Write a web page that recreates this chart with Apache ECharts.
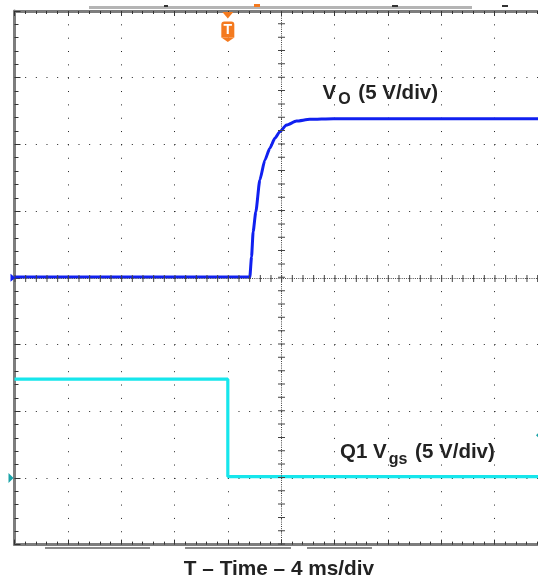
<!DOCTYPE html>
<html><head><meta charset="utf-8">
<script src="https://cdn.jsdelivr.net/npm/echarts@6/dist/echarts.min.js"></script>
<style>html,body{margin:0;padding:0;background:#fff}#c{width:538px;height:580px}</style>
</head><body><div id="c"></div>
<script>
// ---- data (time in ms, 4 ms/div, trigger at 0 ms; volts, 5 V/div) ----
const timeTicks = [-16, -12, -8, -4, 0, 4, 8, 12, 16, 20, 24];
const voAxisTicks = [-20, -15, -10, -5, 0, 5, 10, 15, 20];
const vgsAxisTicks = [-5, 0, 5, 10, 15, 20, 25, 30, 35];
const voTime  = [-16, 1.65, 1.78, 1.90, 2.10, 2.40, 2.78, 3.15, 3.53, 3.90, 4.40, 5.15, 6.15, 7.9, 24];
const voVolts = [0.06, 0.06, 1.58, 3.46, 4.95, 7.33, 8.83, 9.71, 10.46, 10.95, 11.45, 11.75, 11.88, 11.93, 11.92];
const vgsTime  = [-16, 0, 0, 24];
const vgsVolts = [7.4, 7.4, 0.1, 0.1];
const triggerTime = 0;
const vgsTriggerLevel = 3.2;
const centerTime = 4;
const labels = {
  vo: ['V', 'O', ' (5 V/div)'],
  vgs: ['Q1 V', 'gs', ' (5 V/div)'],
  xTitle: 'T \u2013 Time \u2013 4 ms/div'
};

// ---- layout ----
const W = 538, H = 580;
const GL = 14.5, GT = 11, GW = 533.3, GH = 533.6;
const nX = timeTicks.length - 1, nY = voAxisTicks.length - 1;
const minorW = GW / nX / 5, minorH = GH / nY / 5;
const FONT = '"Liberation Sans", Arial, Helvetica, sans-serif';
const GRID_DOT = '#222';
const FRAME = '#7d7d7d';
const BLUE = '#1020f0';
const CYAN = '#16e6ec';
const ORANGE = '#f47a1f';
const MAIN_SIZE = 20.5, SUB_SIZE = 16;

const zip = (a, b) => a.map((v, i) => [v, b[i]]);

function xAxisCfg(pos, split) {
  return {
    type: 'value', position: pos,
    min: timeTicks[0], max: timeTicks[timeTicks.length - 1],
    interval: timeTicks[1] - timeTicks[0],
    axisLine: { show: true, onZero: false, lineStyle: { color: FRAME, width: 3 } },
    axisTick: { show: true, inside: true, length: 5, lineStyle: { color: '#333', width: 1 } },
    minorTick: { show: true, splitNumber: 5, length: 3, lineStyle: { color: '#333', width: 1 } },
    axisLabel: { show: false },
    splitLine: { show: split, showMinLine: false, showMaxLine: false,
      lineStyle: { color: GRID_DOT, width: 1, type: [1, minorH - 1] } },
    minorSplitLine: { show: false }
  };
}

const chart = echarts.init(document.getElementById('c'), null, { renderer: 'canvas', width: W, height: H });

const option = {
  animation: false,
  backgroundColor: '#fff',
  grid: { left: GL, top: GT, right: W - GL - GW, bottom: H - GT - GH, containLabel: false, outerBoundsMode: 'none' },
  xAxis: [xAxisCfg('bottom', true), xAxisCfg('top', false)],
  yAxis: [
    {
      type: 'value', position: 'left',
      min: voAxisTicks[0], max: voAxisTicks[voAxisTicks.length - 1],
      interval: voAxisTicks[1] - voAxisTicks[0],
      axisLine: { show: true, onZero: false, lineStyle: { color: FRAME, width: 3 } },
      axisTick: { show: true, inside: true, length: 6, lineStyle: { color: '#333', width: 1 } },
      minorTick: { show: true, splitNumber: 5, length: 4, lineStyle: { color: '#333', width: 1 } },
      axisLabel: { show: false },
      splitLine: { show: true, showMinLine: false, showMaxLine: false,
        lineStyle: { color: GRID_DOT, width: 1, type: [1, minorW - 1] } }
    },
    {
      type: 'value', position: 'right', show: false,
      min: vgsAxisTicks[0], max: vgsAxisTicks[vgsAxisTicks.length - 1],
      interval: vgsAxisTicks[1] - vgsAxisTicks[0],
      splitLine: { show: false }
    }
  ],
  series: [
    {
      name: 'center', type: 'line', data: [], z: 1, silent: true,
      markLine: {
        silent: true, symbol: 'none', label: { show: false }, animation: false,
        emphasis: { disabled: true },
        data: [
          { xAxis: centerTime, lineStyle: { color: '#444', width: 1, type: [1, 1.2] } },
          { xAxis: centerTime, lineStyle: { color: '#444', width: 7, type: [1, minorH - 1] } },
          { yAxis: 0, lineStyle: { color: '#444', width: 1, type: [1, 1.2] } },
          { yAxis: 0, lineStyle: { color: '#444', width: 7, type: [1, minorW - 1] } }
        ]
      }
    },
    {
      name: 'Q1 Vgs', type: 'line', xAxisIndex: 0, yAxisIndex: 1, z: 3,
      data: zip(vgsTime, vgsVolts), showSymbol: false, symbol: 'none',
      lineStyle: { color: CYAN, width: 3.2 }
    },
    {
      name: 'VO', type: 'line', xAxisIndex: 0, yAxisIndex: 0, z: 4,
      data: zip(voTime, voVolts), showSymbol: false, symbol: 'none',
      smooth: 0.2, smoothMonotone: 'x',
      lineStyle: { color: BLUE, width: 3 }
    }
  ]
};
chart.setOption(option);

// ---- annotations placed from axis coordinates ----
const px = (t, v, yi) => chart.convertToPixel({ xAxisIndex: 0, yAxisIndex: yi || 0 }, [t, v]);
const trig = px(triggerTime, 0);
const voGnd = px(timeTicks[0], 0, 0);
const vgsGnd = px(timeTicks[0], 0, 1);
const vgsTrig = px(timeTicks[0], vgsTriggerLevel, 1);
const tx = trig[0];

// text measuring for subscript labels
const mctx = document.createElement('canvas').getContext('2d');
function textW(str, size) { mctx.font = 'bold ' + size + 'px ' + FONT; return mctx.measureText(str).width; }
// baseline-positioned label with subscript: parts = [main, sub, main]
function subLabel(parts, x, baseline, subDrop) {
  const els = [];
  const gap = 2;
  const x1 = x + textW(parts[0], MAIN_SIZE) + gap;
  const x2 = x1 + textW(parts[1], SUB_SIZE) + gap;
  const mk = (t, xx, size, base) => ({
    type: 'text', x: xx, y: base - 0.35 * size, z: 30,
    style: { text: t, font: 'bold ' + size + 'px ' + FONT, fill: '#222', align: 'left', verticalAlign: 'middle' }
  });
  els.push(mk(parts[0], x, MAIN_SIZE, baseline));
  els.push(mk(parts[1], x1, SUB_SIZE, baseline + subDrop));
  els.push(mk(parts[2], x2, MAIN_SIZE, baseline));
  return els;
}

chart.setOption({
  graphic: [
    // scope status bar decorations
    { type: 'rect', shape: { x: 89, y: 6, width: 383, height: 3 }, style: { fill: '#b4b4b4' }, z: 10 },
    { type: 'rect', shape: { x: 164, y: 5, width: 4, height: 2 }, style: { fill: '#333' }, z: 11 },
    { type: 'rect', shape: { x: 392, y: 5, width: 6, height: 2 }, style: { fill: '#333' }, z: 11 },
    { type: 'rect', shape: { x: 502, y: 5, width: 6, height: 2 }, style: { fill: '#333' }, z: 11 },
    { type: 'rect', shape: { x: 254, y: 4, width: 6, height: 3 }, style: { fill: ORANGE }, z: 11 },
    { type: 'rect', shape: { x: 45, y: 547, width: 105, height: 2 }, style: { fill: '#8a8a8a' }, z: 10 },
    { type: 'rect', shape: { x: 185, y: 547, width: 106, height: 2 }, style: { fill: '#8a8a8a' }, z: 10 },
    { type: 'rect', shape: { x: 307, y: 547, width: 65, height: 2 }, style: { fill: '#8a8a8a' }, z: 10 },
    // trigger marker
    { type: 'polygon', shape: { points: [[tx - 5.5, 12], [tx + 5.5, 12], [tx, 18.5]] }, style: { fill: ORANGE }, z: 20 },
    { type: 'rect', shape: { x: tx - 6.5, y: 21.5, width: 13, height: 16, r: [3, 3, 0, 0] }, style: { fill: ORANGE }, z: 20 },
    { type: 'polygon', shape: { points: [[tx - 6.5, 37.4], [tx + 6.5, 37.4], [tx, 42]] }, style: { fill: ORANGE }, z: 20 },
    { type: 'text', x: tx, y: 30.5, style: { text: 'T', font: 'bold 14px ' + FONT, fill: '#fff', align: 'center', verticalAlign: 'middle' }, z: 21 },
    // channel ground / level markers
    { type: 'polygon', shape: { points: [[voGnd[0] - 4, voGnd[1] - 4], [voGnd[0] + 1, voGnd[1]], [voGnd[0] - 4, voGnd[1] + 4]] }, style: { fill: BLUE }, z: 20 },
    { type: 'polygon', shape: { points: [[vgsGnd[0] - 6, vgsGnd[1] - 5], [vgsGnd[0] - 1, vgsGnd[1]], [vgsGnd[0] - 6, vgsGnd[1] + 5]] }, style: { fill: '#1aa3a8' }, z: 20 },
    { type: 'polygon', shape: { points: [[536, vgsTrig[1]], [540, vgsTrig[1] - 4], [544, vgsTrig[1]], [540, vgsTrig[1] + 4]] }, style: { fill: '#1aa3a8' }, z: 20 },
    // labels
    ...subLabel(labels.vo, 322.5, 100.5, 5),
    ...subLabel(labels.vgs, 340, 460, 5),
    { type: 'text', x: 279, y: 569, z: 30,
      style: { text: labels.xTitle, font: 'bold 20.8px ' + FONT, fill: '#222', align: 'center', verticalAlign: 'middle' } }
  ]
});
</script>
</body></html>
